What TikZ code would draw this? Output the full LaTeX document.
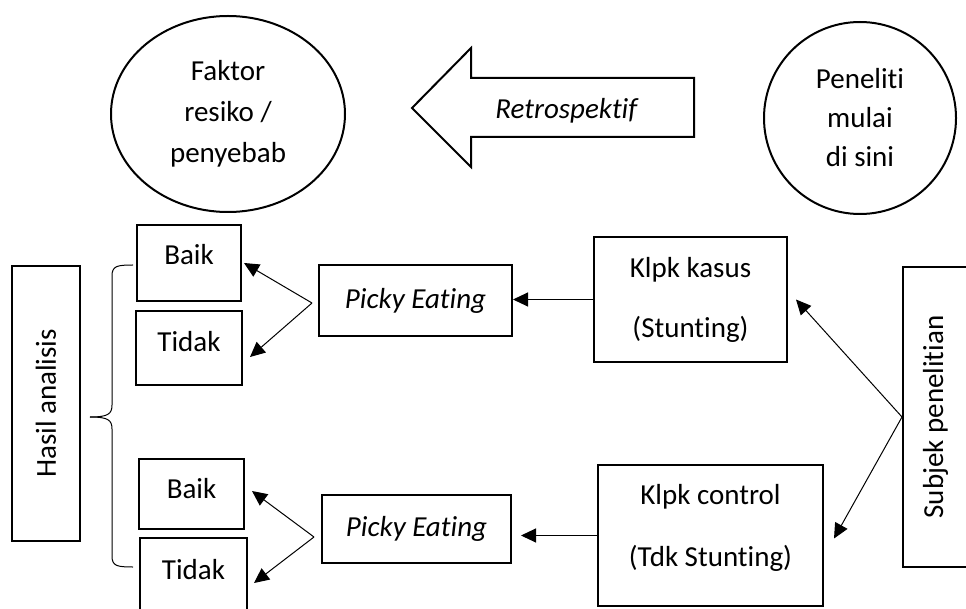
\documentclass[tikz,border=0pt]{standalone}
\usepackage{fontspec}
\setmainfont{Carlito}[Ligatures={NoCommon}]
\usetikzlibrary{arrows.meta,calc,shapes.geometric}

\tikzset{
  box/.style={draw, line width=2pt, inner sep=0pt, align=center},
  lift/.style={text height=20pt, text depth=#1},
  arr/.style={-{Triangle[length=15pt,width=14pt]}, line width=1pt},
}

\begin{document}
\begin{tikzpicture}[x=1pt, y=-1pt, font=\fontsize{29}{39}\selectfont]
      % Frame:
      \useasboundingbox (0,0) rectangle (966,609);
      \clip (0,0) rectangle (966,609);
      % Top row:
      \node[box, ellipse, font=\fontsize{29}{41}\selectfont, minimum width=234pt, minimum height=196pt](faktor) at (228,114){Faktor\\resiko /\\penyebab};
      \node[box, circle, minimum size=192pt](peneliti) at (860,118){Peneliti\\mulai\\di sini};
      \draw[line width=2pt] (694,78) -- (471,78) -- (471,48) -- (412,108) -- (471,167) -- (471,137) -- (694,137) -- cycle;
      \node(retro) at (567,111){\textit{Retrospektif}};
      % Side boxes:
      \node[box, rotate=90, minimum width=275pt, minimum height=68pt](hasil) at (46,403.5){Hasil analisis};
      \node[box, rotate=90, minimum width=300pt, minimum height=65pt](subjek) at (935.5,417){Subjek penelitian};
      % Boxes and groups:
      \node[box, lift=16pt, minimum width=104pt, minimum height=76pt](baik1) at (189,263){Baik};
      \node[box, lift=12pt, minimum width=106pt, minimum height=74pt](tidak1) at (189,348){Tidak};
      \node[box, lift=12pt, minimum width=105pt, minimum height=70pt](baik2) at (191.5,494){Baik};
      \node[box, lift=20pt, minimum width=107pt, minimum height=82pt](tidak2) at (193.5,579){Tidak};
      \node[box, minimum width=193pt, minimum height=71pt](picky1) at (415.5,300.5){\textit{Picky Eating}};
      \node[box, minimum width=189pt, minimum height=68pt](picky2) at (416.5,529){\textit{Picky Eating}};
      \node[box, font=\fontsize{29}{60}\selectfont, minimum width=193pt, minimum height=125pt](kasus) at (690.5,299.5){Klpk kasus\\(Stunting)};
      \node[box, font=\fontsize{29}{62}\selectfont, text depth=20pt, minimum width=225pt, minimum height=141pt](control) at (710.5,535.5){Klpk control\\(Tdk Stunting)};
      % Arrows:
      \draw[arr] ($(picky1.west)+(-6,2.5)$) -- ($(baik1.east)+(2,0)$);
      \draw[arr] ($(picky1.west)+(-6,2.5)$) -- ($(tidak1.east)+(7,9)$);
      \draw[arr] ($(picky2.west)+(-7,8)$) -- ($(baik2.east)+(7,-3)$);
      \draw[arr] ($(picky2.west)+(-7,8)$) -- ($(tidak2.east)+(6,4)$);
      \draw[arr] (kasus.west) -- (kasus.west -| picky1.east);
      \draw[arr] (control.west) -- ($(control.west -| picky2.east)+(9,0)$);
      \draw[arr] (subjek.north) -- ($(kasus.east)+(8,0)$);
      \draw[arr] (subjek.north) -- ($(control.east)+(10,3)$);
      % Brace:
      \draw[line width=1pt] (133,265) .. controls (117,265) and (112,266) .. (112,276) -- (112,405) .. controls (112,414) and (108,417) .. (90,417);
      \draw[line width=1pt] (90,417) .. controls (108,417) and (112,420) .. (112,429) -- (112,556) .. controls (112,566) and (117,567) .. (133,567);
\end{tikzpicture}
\end{document}
